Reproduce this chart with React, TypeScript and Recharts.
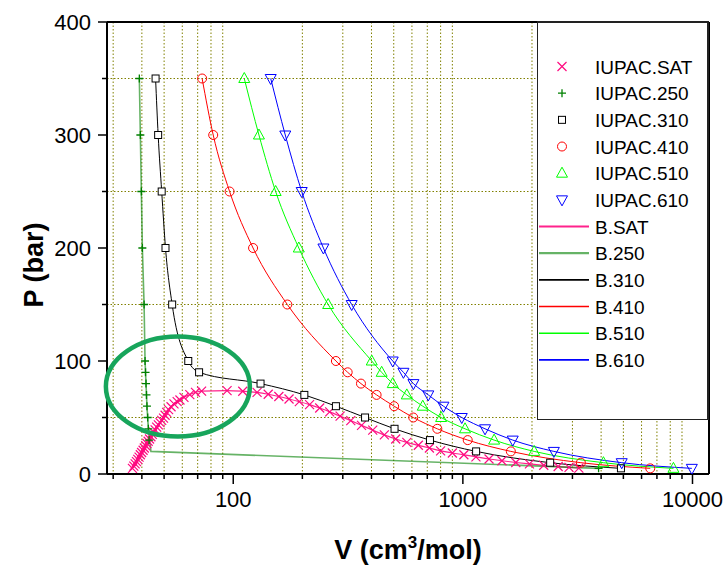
import React from 'react'
import { ComposedChart, Line, Scatter, XAxis, YAxis, CartesianGrid, ReferenceLine, ReferenceDot, Legend } from 'recharts'

const FONT = '"Liberation Sans", Arial, Helvetica, sans-serif'
const GRID = '#808000'
const PINK = '#ff0a80'
const DARK_GREEN = '#008000'
const LIME = '#00ff00'

// axis ticks (log x, linear y)
const xMajorTicks = [100, 1000, 10000]
const xMinorTicks = [30, 40, 50, 60, 70, 80, 90, 200, 300, 400, 500, 600, 700, 800, 900, 2000, 3000, 4000, 5000, 6000, 7000, 8000, 9000]
const yMajorTicks = [0, 100, 200, 300, 400]
const yMinorTicks = [50, 150, 250, 350]
const xDomain = [28.2, 11800]
const yDomain = [0, 400]

// saturation curve (liquid branch up to the critical point, then vapour branch)
const satLiquidV = [36.4, 36.9, 37.4, 37.9, 38.4, 38.9, 39.4, 39.9, 40.5, 41.0, 41.6, 42.1, 42.6, 43.2, 43.8, 44.4, 45.0, 45.7, 46.4, 47.2, 48.0, 48.8, 49.7, 50.5, 51.3, 52.3, 53.6, 55.2, 57.0, 58.6, 61.0, 64.7, 68.5, 72.8, 94]
const satLiquidP = [5, 7, 9, 11, 13, 15, 17, 19, 21, 23, 25, 27, 29, 31, 33, 35, 37, 39, 41.5, 43.5, 45.5, 47.5, 49.5, 52, 54.5, 57, 59.5, 62, 64, 65.5, 67.8, 70.3, 72.2, 73.4, 73.8]
const satVaporV = [110, 127, 142, 158, 175, 194, 215, 238, 263, 292, 325, 362, 405, 455, 510, 570, 640, 715, 800, 900, 1010, 1140, 1300, 1480, 1700, 1950, 2250, 2600, 2900, 3200]
const satVaporP = [73.2, 72.2, 70.6, 68.6, 66.4, 64, 61.4, 58.4, 55, 51.2, 47.2, 43, 38.8, 34.6, 31, 28, 25.4, 23, 20.5, 18.6, 17, 15.2, 13.3, 11.7, 10.2, 8.9, 7.7, 6.6, 5.8, 5.2]

// isotherms
const iso250V = [39.0, 39.4, 39.8, 40.2, 40.9, 41.3, 41.5, 41.7, 41.9, 42.1, 42.4, 42.7, 43.0, 3900]
const iso250P = [350, 300, 250, 200, 150, 100, 90, 80, 70, 60, 50, 40, 30, 5]
const b250V = [39.0, 39.4, 39.8, 40.2, 40.9, 41.3, 41.7, 42.1, 42.7, 43.8, 3900]
const b250P = [350, 300, 250, 200, 150, 100, 80, 60, 40, 20, 5]

const isoP = [350, 300, 250, 200, 150, 100, 90, 80, 70, 60, 50, 40, 30, 20, 10, 5]
const iso310V = [45.9, 47.1, 48.8, 50.7, 54.2, 63.7, 71.0, 131.5, 204, 280, 375, 504, 719, 1142, 2400, 4880]
const iso410V = [73.2, 81.8, 96.4, 122, 172, 280, 315, 360, 421, 502, 608, 774, 1050, 1618, 3265, 6547]
const iso510V = [111.7, 129.4, 153, 193, 259, 401, 443, 495, 570, 669, 804, 1022, 1368, 2044, 4093, 8260]
const iso610V = [145.6, 168.5, 198.7, 247, 328, 495, 551, 609, 707, 823, 989, 1249, 1649, 2490, 4918, 9935]

// highlighted region around the critical point
const ringV = 57.4
const ringP = 77.4

const toPoints = (v: number[], p: number[]) => v.map((x, i) => ({ v: x, p: p[i] }))

const satPoints = toPoints([...satLiquidV, ...satVaporV], [...satLiquidP, ...satVaporP])

const markerSeries = [
  { name: 'IUPAC.SAT', kind: 'x', color: PINK, data: satPoints },
  { name: 'IUPAC.250', kind: 'plus', color: DARK_GREEN, data: toPoints(iso250V, iso250P) },
  { name: 'IUPAC.310', kind: 'square', color: '#000000', data: toPoints(iso310V, isoP) },
  { name: 'IUPAC.410', kind: 'circle', color: '#ff0000', data: toPoints(iso410V, isoP) },
  { name: 'IUPAC.510', kind: 'up', color: LIME, data: toPoints(iso510V, isoP) },
  { name: 'IUPAC.610', kind: 'down', color: '#0000ff', data: toPoints(iso610V, isoP) },
]

const lineSeries = [
  { name: 'B.SAT', color: PINK, width: 1.2, opacity: 0.9, data: satPoints },
  { name: 'B.250', color: DARK_GREEN, width: 1.6, opacity: 0.6, data: toPoints(b250V, b250P) },
  { name: 'B.310', color: '#000000', width: 1, opacity: 1, data: toPoints(iso310V, isoP) },
  { name: 'B.410', color: '#ff0000', width: 1, opacity: 1, data: toPoints(iso410V, isoP) },
  { name: 'B.510', color: LIME, width: 1, opacity: 1, data: toPoints(iso510V, isoP) },
  { name: 'B.610', color: '#0000ff', width: 1, opacity: 1, data: toPoints(iso610V, isoP) },
]

function Marker({ kind, cx, cy, color }: { kind: string; cx: number; cy: number; color: string }) {
  const common = { stroke: color, strokeWidth: 1, fill: 'none' }
  switch (kind) {
    case 'x': {
      const s = 4.5
      return <path d={`M${cx - s},${cy - s}L${cx + s},${cy + s}M${cx - s},${cy + s}L${cx + s},${cy - s}`} {...common} strokeWidth={1.2} />
    }
    case 'plus': {
      const s = 4
      return <path d={`M${cx - s},${cy}H${cx + s}M${cx},${cy - s}V${cy + s}`} {...common} strokeWidth={1.3} />
    }
    case 'square':
      return <rect x={cx - 3.5} y={cy - 3.5} width={7} height={7} {...common} fill="#fff" />
    case 'circle':
      return <circle cx={cx} cy={cy} r={4.5} {...common} />
    case 'up':
      return <polygon points={`${cx},${cy - 6} ${cx - 5.5},${cy + 4} ${cx + 5.5},${cy + 4}`} {...common} />
    default:
      return <polygon points={`${cx - 5.5},${cy - 4} ${cx + 5.5},${cy - 4} ${cx},${cy + 6}`} {...common} />
  }
}

const XTick = ({ x, y, payload }: any) => {
  const major = xMajorTicks.includes(payload.value)
  return (
    <g>
      <line x1={x} x2={x} y1={y} y2={y + (major ? 10 : 5)} stroke="#000" strokeWidth={1.5} />
      {major && (
        <text x={x} y={y + 33} textAnchor="middle" fontSize={22} fontFamily={FONT} fill="#000">
          {payload.value}
        </text>
      )}
    </g>
  )
}

const YTick = ({ x, y, payload }: any) => {
  const major = yMajorTicks.includes(payload.value)
  return (
    <g>
      <line x1={x} x2={x - (major ? 9 : 5)} y1={y} y2={y} stroke="#000" strokeWidth={1.5} />
      {major && (
        <text x={x - 16} y={y + 8} textAnchor="end" fontSize={22} fontFamily={FONT} fill="#000">
          {payload.value}
        </text>
      )}
    </g>
  )
}

const XTitle = ({ viewBox }: any) => (
  <text x={viewBox.x + viewBox.width / 2} y={viewBox.y + 85} textAnchor="middle" fontSize={27} fontWeight="bold" fontFamily={FONT} fill="#000">
    <tspan>V (cm</tspan>
    <tspan dy={-11} fontSize={17}>3</tspan>
    <tspan dy={11}>/mol)</tspan>
  </text>
)

const YTitle = ({ viewBox }: any) => {
  const cy = viewBox.y + viewBox.height / 2 + 17
  return (
    <text transform={`translate(43, ${cy}) rotate(-90)`} textAnchor="middle" fontSize={27} fontWeight="bold" fontFamily={FONT} fill="#000">
      P (bar)
    </text>
  )
}

const LegendBox = () => {
  const rows = [
    ...markerSeries.map((s) => ({ name: s.name, color: s.color, kind: s.kind, width: 1, opacity: 1 })),
    ...lineSeries.map((s) => ({ name: s.name, color: s.color, kind: 'line', width: s.width, opacity: s.opacity })),
  ]
  return (
    <div style={{ width: 172, height: 399, background: '#fff', border: '1px solid #222', borderTopWidth: 2, borderRightWidth: 2, boxSizing: 'border-box' }}>
      <svg width={170} height={396} style={{ display: 'block' }}>
        {rows.map((r, i) => {
          const cy = 43.5 + i * 26.67
          return (
            <g key={r.name}>
              {r.kind === 'line' ? (
                <line x1={1} x2={51} y1={cy} y2={cy} stroke={r.color} strokeWidth={r.width + 0.6} strokeOpacity={r.opacity} />
              ) : (
                <Marker kind={r.kind} cx={24} cy={cy} color={r.color} />
              )}
              <text x={57} y={cy + 7} fontSize={19} fontFamily={FONT} fill="#000">
                {r.name}
              </text>
            </g>
          )
        })}
      </svg>
    </div>
  )
}

export default function App() {
  return (
    <div style={{ position: 'absolute', left: 0, top: 0, width: 724, height: 568, background: '#fff' }}>
      <ComposedChart width={724} height={568} margin={{ top: 22, right: 15, bottom: 0, left: 0 }}>
        <CartesianGrid
          horizontalValues={yMinorTicks}
          verticalValues={xMinorTicks}
          stroke={GRID}
          strokeDasharray="1.5 2"
          strokeWidth={1}
        />
        <XAxis
          dataKey="v"
          type="number"
          scale="log"
          domain={xDomain}
          allowDataOverflow
          ticks={[...xMinorTicks, ...xMajorTicks].sort((a, b) => a - b)}
          interval={0}
          tick={<XTick />}
          tickLine={false}
          tickSize={0}
          tickMargin={0}
          height={94}
          axisLine={{ stroke: '#000', strokeWidth: 2 }}
          label={{ content: <XTitle /> }}
        />
        <YAxis
          dataKey="p"
          type="number"
          domain={yDomain}
          allowDataOverflow
          ticks={[...yMajorTicks, ...yMinorTicks].sort((a, b) => a - b)}
          interval={0}
          tick={<YTick />}
          tickLine={false}
          tickSize={0}
          tickMargin={0}
          width={107}
          axisLine={{ stroke: '#000', strokeWidth: 2 }}
          label={{ content: <YTitle /> }}
        />
        <ReferenceLine y={yDomain[1]} stroke="#000" strokeWidth={2} />
        <ReferenceLine x={xDomain[1]} stroke="#000" strokeWidth={2} />

        {lineSeries.map((s) => (
          <Line
            key={s.name}
            data={s.data}
            dataKey="p"
            name={s.name}
            type={s.name === 'B.250' ? 'linear' : 'monotone'}
            stroke={s.color}
            strokeWidth={s.width}
            strokeOpacity={s.opacity}
            dot={false}
            activeDot={false}
            isAnimationActive={false}
          />
        ))}
        {markerSeries.map((s) => (
          <Scatter
            key={s.name}
            data={s.data}
            dataKey="p"
            name={s.name}
            fill={s.color}
            isAnimationActive={false}
            shape={(props: any) => <Marker kind={s.kind} cx={props.cx} cy={props.cy} color={s.color} />}
          />
        ))}

        <ReferenceDot
          x={ringV}
          y={ringP}
          r={1}
          shape={(props: any) => (
            <ellipse cx={props.cx} cy={props.cy} rx={72} ry={50} fill="none" stroke="#17a55b" strokeWidth={4.5} />
          )}
        />

        <Legend
          layout="vertical"
          align="center"
          verticalAlign="middle"
          content={() => <LegendBox />}
          wrapperStyle={{ left: 537, top: 21, width: 172, height: 399 }}
        />
      </ComposedChart>
    </div>
  )
}
